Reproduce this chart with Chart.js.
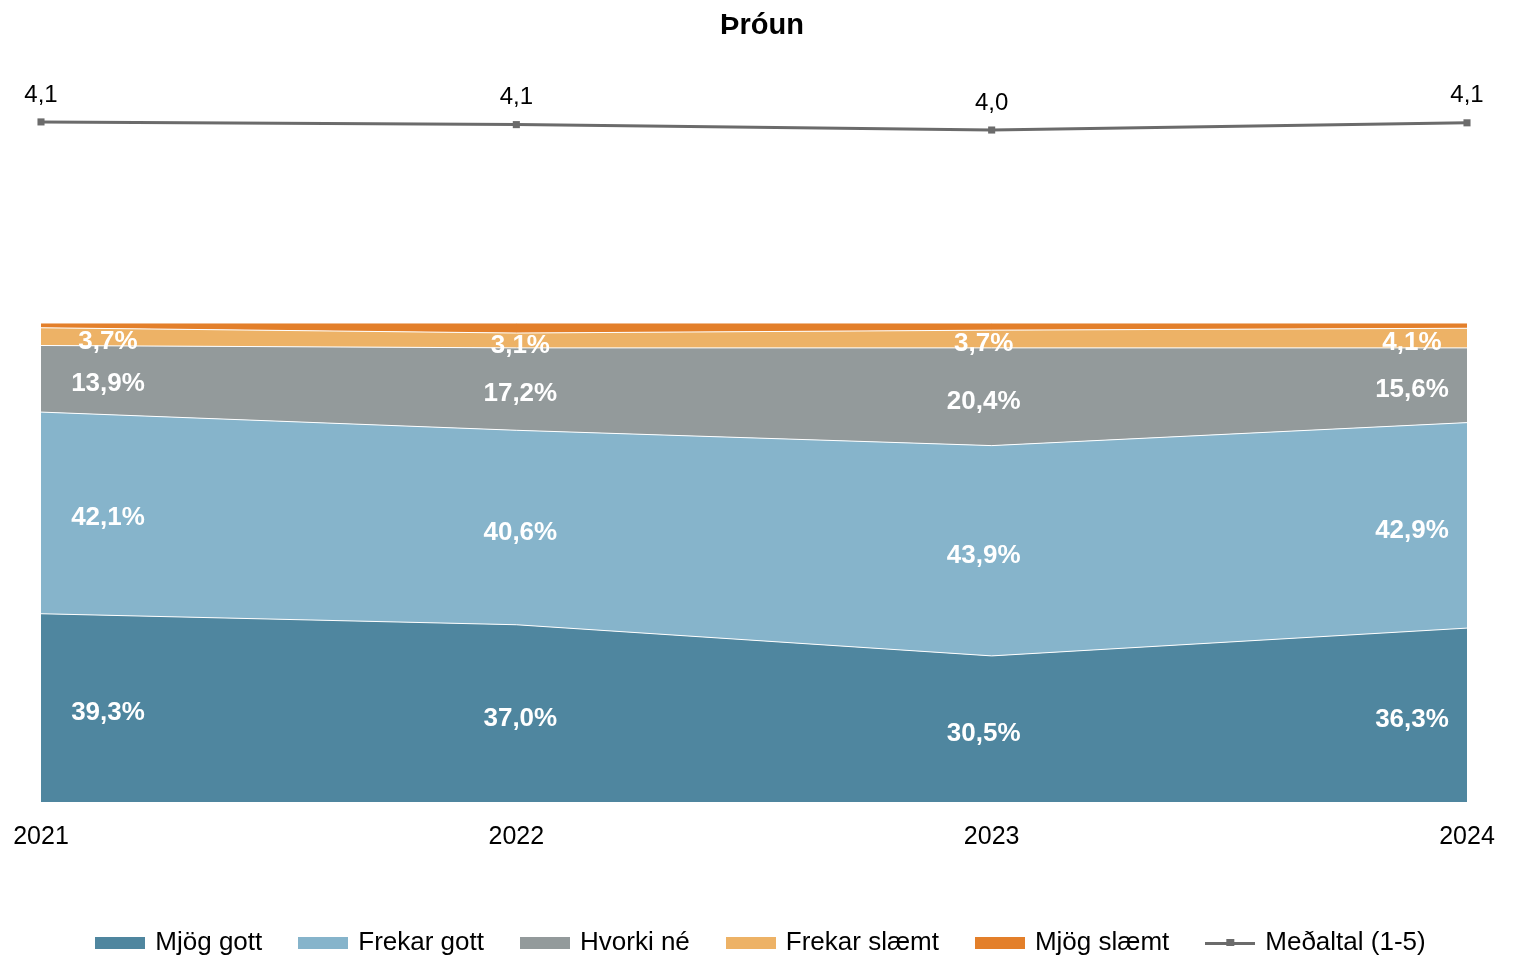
<!DOCTYPE html>
<html>
<head>
<meta charset="utf-8">
<script src="https://cdn.jsdelivr.net/npm/chart.js@4/dist/chart.umd.min.js"></script>
<style>
    body { margin: 0; background: #fff; }
    canvas { display: block; }
</style>
</head>
<body>
<canvas id="trendChart" width="1524" height="966"></canvas>
<script>
const years = ['2021', '2022', '2023', '2024'];
const mjogGott = [39.3, 37.0, 30.5, 36.3];
const frekarGott = [42.1, 40.6, 43.9, 42.9];
const hvorkiNe = [13.9, 17.2, 20.4, 15.6];
const frekarSlaemt = [3.7, 3.1, 3.7, 4.1];
const mjogSlaemt = [1.0, 2.1, 1.5, 1.1];
const medaltal = [4.12, 4.09, 4.03, 4.11];

const FONT = '"Liberation Sans", Arial, sans-serif';
const colors = ['#4f869f', '#86b4cb', '#939a9b', '#edb266', '#e37f2a'];
const lineColor = '#6b6b6b';

// nudges for the white percentage labels (first, middle, middle, last point)
const labelShift = [67, 4, -8, -55];

function fmt(v) { return v.toFixed(1).replace('.', ','); }

// legend icons: wide colour boxes, and a line with a square marker
function boxIcon(color) {
    const c = document.createElement('canvas');
    c.width = 50; c.height = 12;
    const g = c.getContext('2d');
    g.fillStyle = color;
    g.fillRect(0, 0, 50, 12);
    return c;
}
function lineIcon() {
    const c = document.createElement('canvas');
    c.width = 50; c.height = 12;
    const g = c.getContext('2d');
    g.fillStyle = lineColor;
    g.fillRect(0, 5, 50, 3);
    g.fillRect(21, 2, 8, 7);
    return c;
}
const legendIcons = colors.map(boxIcon).concat([lineIcon()]);

const bandLabels = {
    id: 'bandLabels',
    afterDatasetsDraw(chart) {
        const ctx = chart.ctx;
        const yScale = chart.scales.y;
        ctx.save();
        ctx.textAlign = 'center';
        ctx.textBaseline = 'middle';
        ctx.font = 'bold 26px ' + FONT;
        ctx.fillStyle = '#fff';
        for (let d = 0; d < 4; d++) {
            const meta = chart.getDatasetMeta(d);
            const prev = d > 0 ? chart.getDatasetMeta(d - 1) : null;
            const values = chart.data.datasets[d].data;
            meta.data.forEach((pt, i) => {
                const base = prev ? prev.data[i].y : yScale.getPixelForValue(0);
                ctx.fillText(fmt(values[i]) + '%', pt.x + labelShift[i], (pt.y + base) / 2 + 5);
            });
        }
        // average labels above the line
        const lm = chart.getDatasetMeta(5);
        ctx.font = '24px ' + FONT;
        ctx.fillStyle = '#000';
        lm.data.forEach((pt, i) => {
            ctx.fillText(fmt(medaltal[i]), pt.x, pt.y - 27);
        });
        ctx.restore();
    }
};

function area(label, data, color, fill) {
    return {
        label: label,
        data: data,
        backgroundColor: color,
        borderColor: '#fff',
        borderWidth: 1,
        pointRadius: 0,
        tension: 0,
        fill: fill,
        yAxisID: 'y'
    };
}

const ctx = document.getElementById('trendChart').getContext('2d');
window.trendChartInstance = new Chart(ctx, {
    type: 'line',
    data: {
        labels: years,
        datasets: [
            area('Mjög gott', mjogGott, colors[0], 'origin'),
            area('Frekar gott', frekarGott, colors[1], '-1'),
            area('Hvorki né', hvorkiNe, colors[2], '-1'),
            area('Frekar slæmt', frekarSlaemt, colors[3], '-1'),
            area('Mjög slæmt', mjogSlaemt, colors[4], '-1'),
            {
                label: 'Meðaltal (1-5)',
                data: medaltal,
                borderColor: lineColor,
                backgroundColor: lineColor,
                borderWidth: 3,
                pointStyle: 'rect',
                pointRadius: 5,
                pointBackgroundColor: lineColor,
                pointBorderWidth: 0,
                fill: false,
                yAxisID: 'y1'
            }
        ]
    },
    options: {
        responsive: false,
        animation: false,
        devicePixelRatio: 1,
        layout: { padding: { left: 0, right: 0, top: 0, bottom: 0 } },
        plugins: {
            tooltip: { enabled: false },
            title: {
                display: true,
                text: 'Þróun',
                color: '#000',
                font: { family: FONT, size: 29, weight: 'bold' },
                padding: { top: 9, bottom: 16.2 }
            },
            legend: {
                position: 'bottom',
                labels: {
                    color: '#000',
                    font: { family: FONT, size: 26 },
                    usePointStyle: true,
                    pointStyleWidth: 44,
                    boxHeight: 12,
                    padding: 39,
                    generateLabels(chart) {
                        const items = Chart.defaults.plugins.legend.labels.generateLabels(chart);
                        items.forEach((it, i) => {
                            it.pointStyle = legendIcons[i];
                            it.lineWidth = 0;
                        });
                        return items;
                    }
                }
            }
        },
        scales: {
            x: {
                type: 'category',
                offset: false,
                grid: { display: false, drawTicks: false },
                border: { display: false },
                ticks: {
                    color: '#000',
                    font: { family: FONT, size: 25 },
                    padding: 20,
                    maxRotation: 0,
                    autoSkip: false
                },
                afterFit(scale) {
                    scale.paddingLeft = 41;
                    scale.paddingRight = 57;
                    scale.height = 89;
                }
            },
            y: {
                display: false,
                stacked: true,
                min: 0,
                max: 154.9
            },
            y1: {
                display: false,
                stacked: false,
                min: -3.436,
                max: 4.808
            }
        }
    },
    plugins: [bandLabels]
});
</script>
</body>
</html>
